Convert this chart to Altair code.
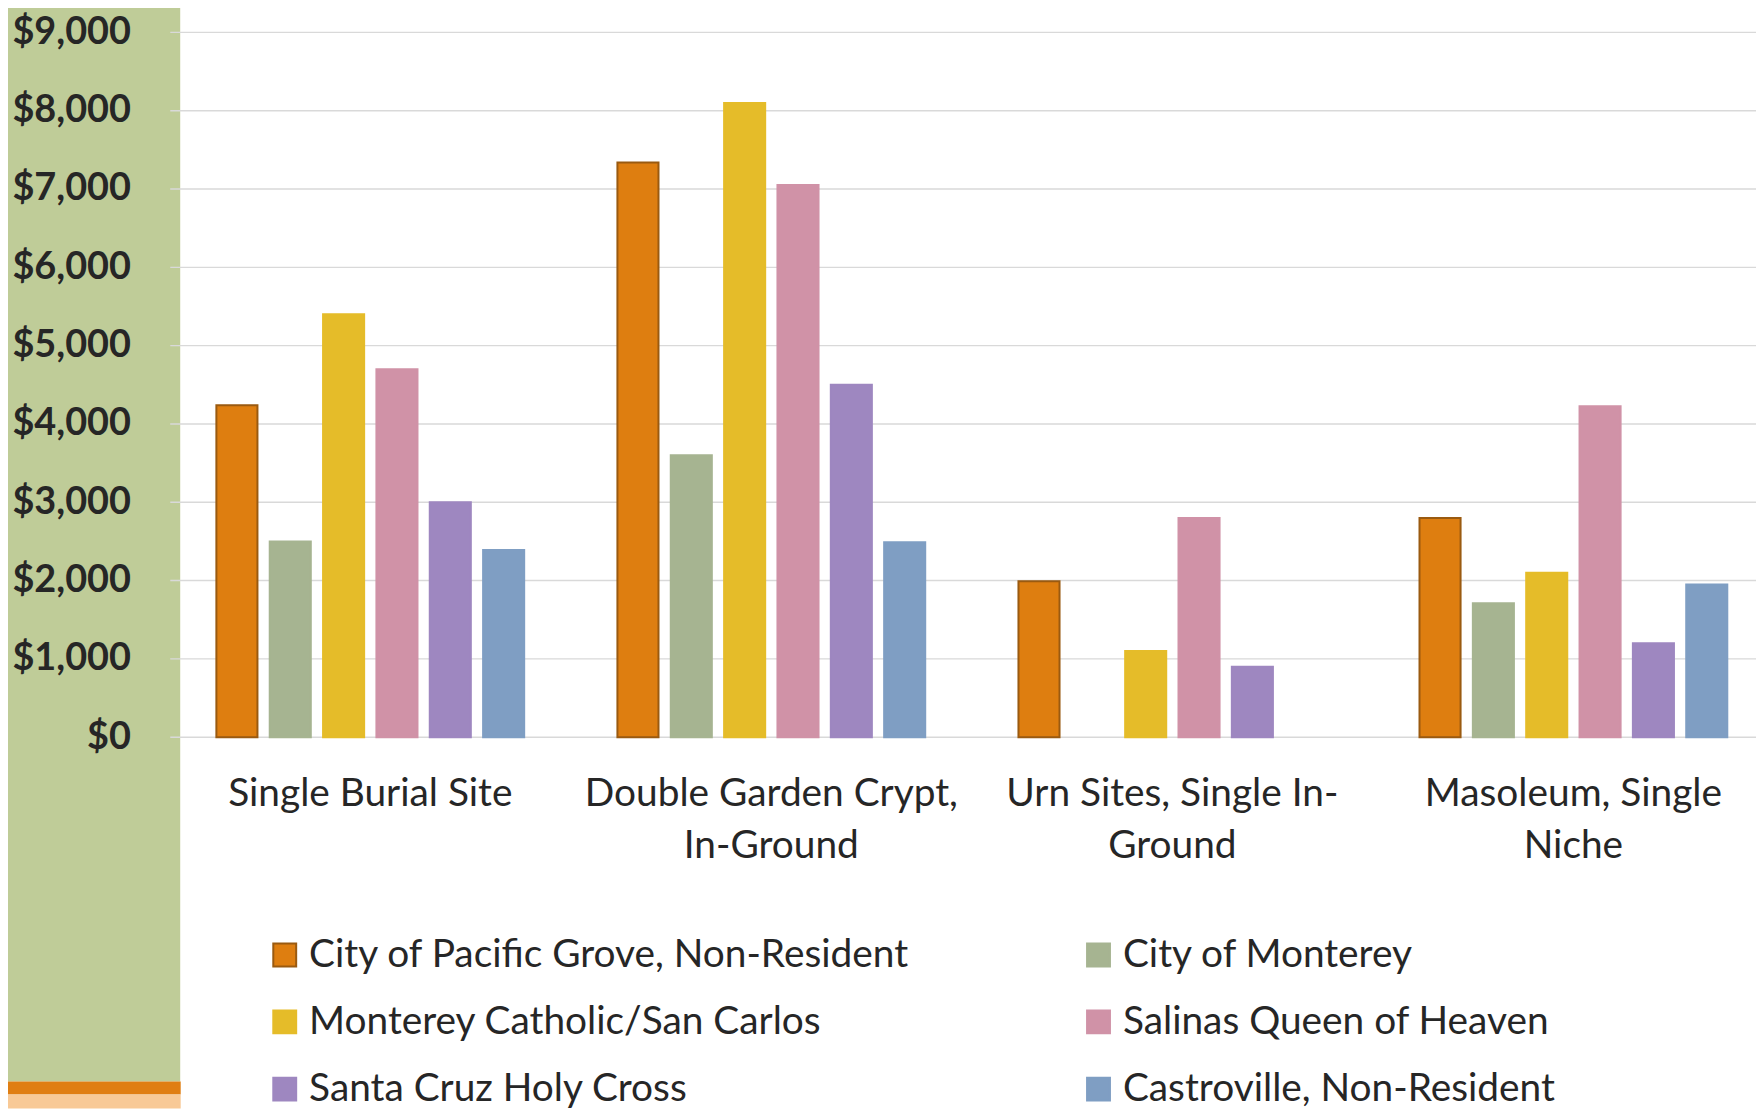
import json
import altair as alt
import pandas as pd

# ---- data ----
categories = [
    "Single Burial Site",
    "Double Garden Crypt, In-Ground",
    "Urn Sites, Single In-Ground",
    "Masoleum, Single Niche",
]
category_lines = [
    ["Single Burial Site"],
    ["Double Garden Crypt,", "In-Ground"],
    ["Urn Sites, Single In-", "Ground"],
    ["Masoleum, Single", "Niche"],
]
series = [
    "City of Pacific Grove, Non-Resident",
    "City of Monterey",
    "Monterey Catholic/San Carlos",
    "Salinas Queen of Heaven",
    "Santa Cruz Holy Cross",
    "Castroville, Non-Resident",
]
pacific_grove = [4240, 7340, 1990, 2800]
monterey = [2500, 3600, None, 1710]
monterey_catholic = [5400, 8100, 1100, 2100]
salinas = [4700, 7050, 2800, 4225]
santa_cruz = [3000, 4500, 900, 1200]
castroville = [2390, 2490, None, 1950]
y_ticks = [0, 1000, 2000, 3000, 4000, 5000, 6000, 7000, 8000, 9000]

fill_colors = ["#DE7E10", "#A6B491", "#E5BC29", "#D092A7", "#9E87C0", "#7F9EC3"]
stroke_colors = ["#9A5A10", "#A6B491", "#E5BC29", "#D092A7", "#9E87C0", "#7F9EC3"]

rows = []
for s, vals in zip(series, [pacific_grove, monterey, monterey_catholic, salinas, santa_cruz, castroville]):
    for c, v in zip(categories, vals):
        if v is not None:
            rows.append({"category": c, "series": s, "value": v})
df = pd.DataFrame(rows)

# legend laid out column by column: reorder so it reads row by row
legend_order = series[0::2] + series[1::2]

FONT = "Lato"
TEXT = "#262626"

label_expr = ""
for c, lines in zip(categories, category_lines):
    label_expr += f"datum.value == {json.dumps(c)} ? {json.dumps(lines)} : "
label_expr += "datum.value"

y_scale = alt.Scale(domain=[0, 9000], nice=False, zero=True)
x_scale = alt.Scale(domain=categories, range=[-0.5, 1611.0], paddingInner=0.2325,
                    paddingOuter=0.11625, round=False)

y_axis = alt.Axis(values=y_ticks, format="$,.0f", title=None, grid=False, domain=False, ticks=False,
                  labelFont=FONT, labelFontSize=38, labelFontWeight="bold", labelColor=TEXT,
                  labelPadding=40, zindex=1)
x_axis = alt.Axis(title=None, domain=False, ticks=False, labelExpr=label_expr, labelFont=FONT,
                  labelFontSize=39, labelColor=TEXT, labelPadding=38, labelLineHeight=52,
                  labelAngle=0, labelOverlap=False, labelLimit=0, zindex=1)
legend = alt.Legend(title=None, orient="none", legendX=95.5, legendY=907, columns=2,
                    columnPadding=169.5, rowPadding=27.5, symbolType="square", symbolSize=529,
                    symbolStrokeWidth=2, labelFont=FONT, labelFontSize=39, labelColor=TEXT,
                    labelOffset=5, labelLimit=0, values=legend_order)

one = pd.DataFrame({"k": [0]})
panel = alt.Chart(one).mark_rect(color="#BFCC98").encode(
    x=alt.value(-171), x2=alt.value(10), y=alt.value(-30), y2=alt.value(1054))
strip1 = alt.Chart(one).mark_rect(color="#E07E12").encode(
    x=alt.value(-171), x2=alt.value(10.5), y=alt.value(1054), y2=alt.value(1067))
strip2 = alt.Chart(one).mark_rect(color="#F8C996").encode(
    x=alt.value(-171), x2=alt.value(10.5), y=alt.value(1067), y2=alt.value(1081))

grid = alt.Chart(pd.DataFrame({"tick": y_ticks})).mark_rule(color="#D9D9D9", strokeWidth=1.4).encode(
    y=alt.Y("tick:Q", scale=y_scale, axis=y_axis))

bars = alt.Chart(df).mark_bar(strokeWidth=2).encode(
    x=alt.X("category:N", scale=x_scale, axis=x_axis),
    xOffset=alt.XOffset("series:N", scale=alt.Scale(domain=series, paddingInner=0.23, paddingOuter=0)),
    y=alt.Y("value:Q", scale=y_scale, axis=y_axis),
    color=alt.Color("series:N", scale=alt.Scale(domain=series, range=fill_colors), legend=legend),
    stroke=alt.Stroke("series:N", scale=alt.Scale(domain=series, range=stroke_colors), legend=legend),
)

chart = alt.layer(panel, strip1, strip2, grid, bars).properties(
    width=1593, height=708,
    padding={"left": 163, "top": 22, "right": 0, "bottom": 373},
    autosize=alt.AutoSizeParams(type="none"),
    background="white",
).configure_view(stroke=None)

chart.save("out.html", embed_options={"renderer": "svg", "actions": False})
